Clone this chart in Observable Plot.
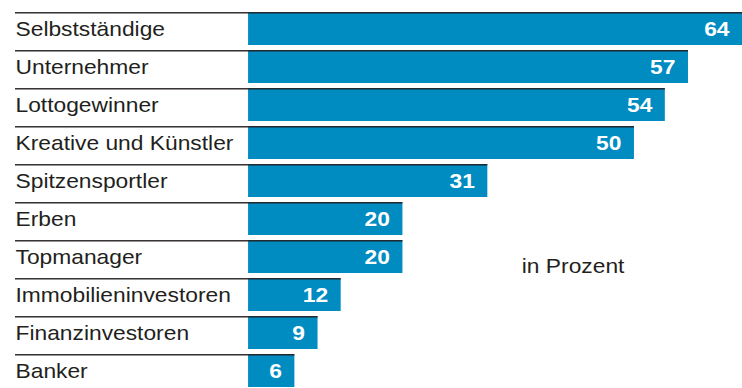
<!DOCTYPE html>
<html>
<head>
<meta charset="utf-8">
<script src="https://cdn.jsdelivr.net/npm/d3@7"></script>
<script src="https://cdn.jsdelivr.net/npm/@observablehq/plot@0.6"></script>
<style>
  html, body { margin: 0; padding: 0; background: #fff; }
  #chart svg { display: block; }
</style>
</head>
<body>
<div id="chart"></div>
<script>
const categories = ["Selbstständige", "Unternehmer", "Lottogewinner", "Kreative und Künstler", "Spitzensportler", "Erben", "Topmanager", "Immobilieninvestoren", "Finanzinvestoren", "Banker"];
const values = [64, 57, 54, 50, 31, 20, 20, 12, 9, 6];
const unitLabel = "in Prozent";
const unitLabelPos = {x: 35.4, y: "Topmanager"};

const XMIN = -30.2;
const data = categories.map((c, i) => ({cat: c, value: values[i]}));

const BAR = "#008bc1";
const INK = "#231f20";
const FONT = "'Liberation Sans', Arial, Helvetica, sans-serif";

const y = {domain: categories, range: [12, 390], paddingInner: 0.14, paddingOuter: 0, align: 0};
const step = (390 - 12) / (categories.length - 0.14);
const bw = step * 0.86;

const chart = Plot.plot({
  width: 742,
  height: 388,
  margin: 0,
  style: {fontFamily: FONT, background: "#fff"},
  x: {domain: [XMIN, 64], range: [15, 742], axis: null},
  y: {...y, axis: null},
  marks: [
    Plot.barX(data, {x1: 0, x2: "value", y: "cat", fill: BAR}),
    Plot.barX(data, {x1: XMIN, x2: "value", y: "cat", fill: INK, insetBottom: bw - 1.5, fillOpacity: 0.9}),
    Plot.text(data, {x: XMIN, y: "cat", text: "cat", textAnchor: "start", fill: INK, fontSize: 20, dy: 1}),
    Plot.text(data, {x: "value", y: "cat", text: d => String(d.value), textAnchor: "end", dx: -13, dy: 1, fill: "#fff", fontSize: 20, fontWeight: "bold"}),
    Plot.text([{label: unitLabel, ...unitLabelPos}], {x: "x", y: "y", text: "label", textAnchor: "start", fill: INK, fontSize: 20, dy: 10})
  ]
});

// stretch glyphs horizontally like the reference
chart.querySelectorAll("text").forEach(t => {
  const tr = t.getAttribute("transform");
  if (tr) t.setAttribute("transform", tr + " scale(1.14,1)");
});

document.getElementById("chart").appendChild(chart);
</script>
</body>
</html>
